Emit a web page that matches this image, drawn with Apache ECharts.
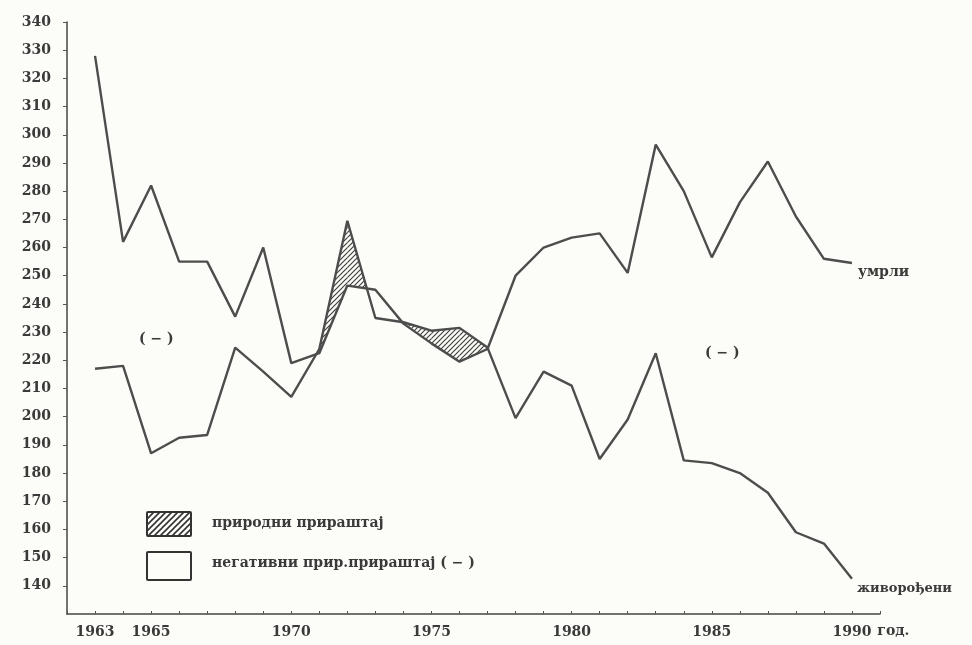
<!DOCTYPE html>
<html>
<head>
<meta charset="utf-8">
<script src="https://cdn.jsdelivr.net/npm/echarts@6/dist/echarts.min.js"></script>
<style>
html,body{margin:0;padding:0;background:#fcfcf8;}
#chart{width:972px;height:645px;}
</style>
</head>
<body>
<div id="chart"></div>
<script>
// ---- data ----
const years = [1963,1964,1965,1966,1967,1968,1969,1970,1971,1972,1973,1974,1975,1976,1977,1978,1979,1980,1981,1982,1983,1984,1985,1986,1987,1988,1989,1990];
const births = [217,218,187,192.5,193.5,224.5,216,207,224,269.5,235,233.5,230.5,231.5,224.5,199.5,216,211,185,199,222.5,184.5,183.5,180,173,159,155,142.5];
const deaths = [328,262,282,255,255,235.5,260,219,222.5,246.5,245,233,226,219.5,224,250,260,263.5,265,251,296.5,280,256.5,276,290.5,271,256,254.5];
const xTickLabels = {1963:'1963',1965:'1965',1970:'1970',1975:'1975',1980:'1980',1985:'1985',1990:'1990'};
const birthsName = 'живорођени';
const deathsName = 'умрли';
const legendPositive = 'природни прираштај';
const legendNegative = 'негативни прир.прираштај ( − )';
const negMark = '( − )';
const yearUnit = 'год.';

const FONT = 'DejaVu Serif';
const INK = '#3a3a3a';
const LINE = '#4d4d4d';

function makeHatch(size, lw, color) {
  const c = document.createElement('canvas');
  c.width = size; c.height = size;
  const ctx = c.getContext('2d');
  ctx.strokeStyle = color; ctx.lineWidth = lw;
  ctx.beginPath();
  ctx.moveTo(0, size); ctx.lineTo(size, 0);
  ctx.moveTo(-size/2, size/2); ctx.lineTo(size/2, -size/2);
  ctx.moveTo(size/2, size*1.5); ctx.lineTo(size*1.5, size/2);
  ctx.stroke();
  return c;
}
const hatchFill = {image: makeHatch(5, 1.2, '#404040'), repeat: 'repeat'};
const legendHatch = {image: makeHatch(6, 1.6, '#333'), repeat: 'repeat'};

const chart = echarts.init(document.getElementById('chart'));

const segData = years.map((y, i) => [y, births[i], i]);

const option = {
  backgroundColor: '#fcfcf8',
  animation: false,
  grid: {left: 67, right: 92, top: 22, bottom: 31},
  xAxis: {
    type: 'value', min: 1962, max: 1991, interval: 1,
    axisLine: {show: true, lineStyle: {color: '#444', width: 1.5}},
    axisTick: {show: true, inside: true, length: 3, lineStyle: {color: '#555'}},
    splitLine: {show: false},
    axisLabel: {
      formatter: v => xTickLabels[v] || '',
      fontFamily: FONT, fontWeight: 'bold', fontSize: 14, color: INK, margin: 11,
      showMinLabel: true, showMaxLabel: true
    },
    name: yearUnit,
    nameLocation: 'end',
    nameGap: -12,
    nameTextStyle: {fontFamily: FONT, fontWeight: 'bold', fontSize: 14, color: INK,
      align: 'left', verticalAlign: 'top', padding: [10, 0, 0, 0]}
  },
  yAxis: {
    type: 'value', min: 130, max: 340, interval: 10,
    axisLine: {show: true, lineStyle: {color: '#444', width: 1.5}},
    axisTick: {show: true, length: 4, lineStyle: {color: '#555'}},
    splitLine: {show: false},
    axisLabel: {
      showMinLabel: false,
      fontFamily: FONT, fontWeight: 'bold', fontSize: 14, color: INK, margin: 16
    }
  },
  series: [
    {
      type: 'custom',
      name: 'hatch',
      data: segData,
      encode: {x: 0, y: 1},
      z: 1,
      silent: true,
      renderItem: function (params, api) {
        const i = api.value(2);
        if (i >= years.length - 1) return null;
        const x0 = years[i], x1 = years[i + 1];
        const b0 = births[i], b1 = births[i + 1], d0 = deaths[i], d1 = deaths[i + 1];
        const g0 = b0 - d0, g1 = b1 - d1;
        let pts;
        if (g0 >= 0 && g1 >= 0) {
          pts = [[x0, b0], [x1, b1], [x1, d1], [x0, d0]];
        } else if (g0 > 0 && g1 < 0) {
          const t = g0 / (g0 - g1);
          const c = [x0 + t * (x1 - x0), b0 + t * (b1 - b0)];
          pts = [[x0, b0], c, [x0, d0]];
        } else if (g0 < 0 && g1 > 0) {
          const t = g0 / (g0 - g1);
          const c = [x0 + t * (x1 - x0), b0 + t * (b1 - b0)];
          pts = [c, [x1, b1], [x1, d1]];
        } else {
          return null;
        }
        return {
          type: 'polygon',
          shape: {points: pts.map(p => api.coord(p))},
          style: {fill: hatchFill, stroke: null}
        };
      }
    },
    {
      type: 'line', name: deathsName,
      data: years.map((y, i) => [y, deaths[i]]),
      showSymbol: false, z: 3,
      lineStyle: {color: LINE, width: 2.4},
      endLabel: {show: true, formatter: deathsName, offset: [-2, 9],
        fontFamily: FONT, fontWeight: 'bold', fontSize: 14, color: INK}
    },
    {
      type: 'line', name: birthsName,
      data: years.map((y, i) => [y, births[i]]),
      showSymbol: false, z: 3,
      lineStyle: {color: LINE, width: 2.4},
      endLabel: {show: true, formatter: birthsName, offset: [-3, 10],
        fontFamily: FONT, fontWeight: 'bold', fontSize: 13, color: INK}
    }
  ],
  graphic: [
    {type: 'text', left: 139, top: 332,
      style: {text: negMark, fontFamily: FONT, fontWeight: 'bold', fontSize: 14, fill: INK}},
    {type: 'text', left: 705, top: 346,
      style: {text: negMark, fontFamily: FONT, fontWeight: 'bold', fontSize: 14, fill: INK}},
    {type: 'rect', shape: {x: 147, y: 512, width: 44, height: 24, r: 1},
      style: {fill: legendHatch, stroke: '#333', lineWidth: 2}},
    {type: 'rect', shape: {x: 147, y: 552, width: 44, height: 28, r: 1},
      style: {fill: '#fcfcf8', stroke: '#333', lineWidth: 2}},
    {type: 'text', left: 212, top: 516,
      style: {text: legendPositive, fontFamily: FONT, fontWeight: 'bold', fontSize: 14, fill: INK}},
    {type: 'text', left: 212, top: 556,
      style: {text: legendNegative, fontFamily: FONT, fontWeight: 'bold', fontSize: 14, fill: INK}}
  ]
};
chart.setOption(option);
</script>
</body>
</html>
